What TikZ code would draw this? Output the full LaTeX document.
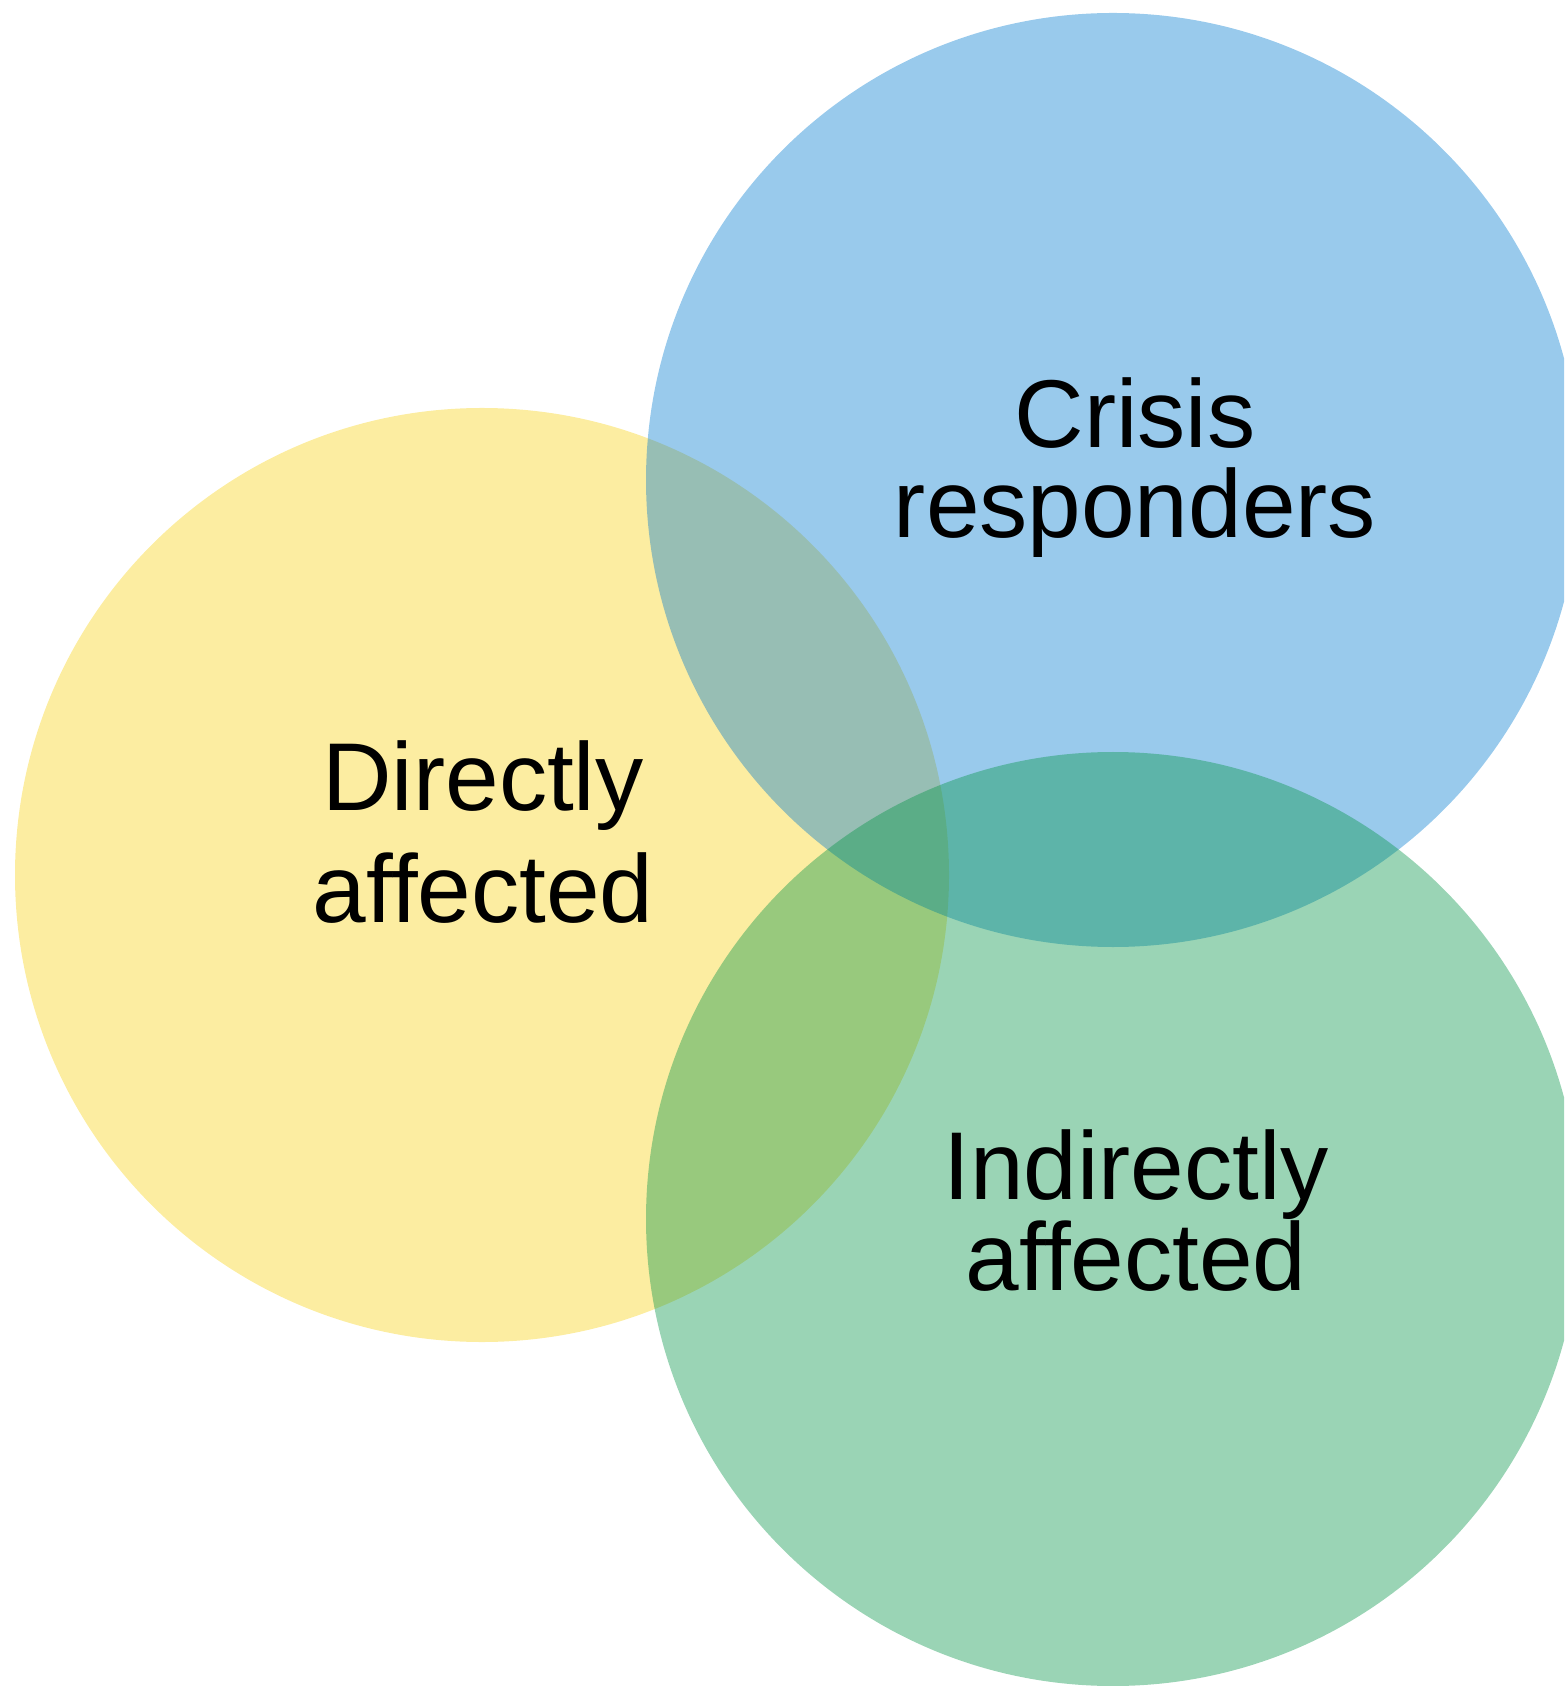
\documentclass[tikz,border=0pt]{standalone}
\usepackage{fontspec}
\setmainfont{Liberation Sans}
\usepackage{tikz}

\definecolor{yel}{RGB}{248,210,20}
\definecolor{blu}{RGB}{0,122,208}
\definecolor{grn}{RGB}{3,148,70}

\tikzset{
  disc/.style={fill opacity=.4},
  lbl/.style={font=\fontsize{27.4}{25.8}\selectfont,align=center,anchor=base,inner sep=0pt}
}

\begin{document}
\begin{tikzpicture}[x=0.01cm,y=0.01cm,yscale=-1]
%\draw[help lines] (0,0) grid[step=100] (1564,1686);
\clip (0,0) rectangle (1564,1686);
% the three groups
\foreach \c/\col in {(482,875)/yel,(1113,480)/blu,(1113,1219)/grn}
\fill[disc,\col] \c circle (467);
%
\node[lbl] (resp) at (1135,538) {Crisis\\responders};
\node[lbl,font=\fontsize{27.4}{31.6}\selectfont] (direct) at (483,922) {Directly\\affected};
\node[lbl] (indirect) at (1136,1290) {Indirectly\\affected};
\end{tikzpicture}
\end{document}
